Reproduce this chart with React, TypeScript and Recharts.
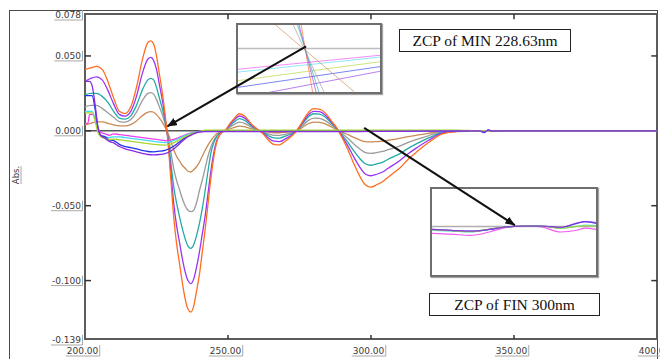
import React from 'react';
import { LineChart, Line, XAxis, YAxis, ReferenceLine } from 'recharts';

// ── Axes ───────────────────────────────────────────────────────────────────────

const X_TICKS = [200, 250, 300, 350, 400];
const Y_TICKS = [0.078, 0.05, 0, -0.05, -0.1, -0.139];
const X_DOMAIN: [number, number] = [200, 400];
const Y_DOMAIN: [number, number] = [-0.139, 0.078];
const RIGHT_TICKS = [0.05, -0.05, -0.1];
const TOP_TICKS = [250, 300, 350];

// ── MIN spectra (5 concentrations) ─────────────────────────────────────────────

const MIN_WL = [
  200, 202, 204, 206, 208, 210, 212, 214, 216, 218, 220, 222,
  223, 224, 225, 226, 227, 228, 229, 230, 231, 232, 233, 234, 235, 236, 237, 238, 239,
  240, 241, 242, 243, 244, 245, 246, 247, 248, 249, 250,
  252, 254, 256, 258, 260, 262, 264, 266, 268, 270, 272, 274, 276, 278, 280, 282, 284,
  286, 288, 290, 292, 294, 296, 298, 300, 302, 304, 306, 308, 310,
  313, 316, 320, 325, 330, 340, 400,
];

const MIN_ORANGE = [
  0.041, 0.042, 0.043, 0.041, 0.033, 0.022, 0.013, 0.0115, 0.016, 0.029, 0.047, 0.059,
  0.060, 0.058, 0.050, 0.038, 0.026, 0.011, -0.007, -0.032, -0.057, -0.075, -0.088, -0.101, -0.112, -0.119, -0.121, -0.117, -0.107,
  -0.096, -0.081, -0.066, -0.049, -0.032, -0.018, -0.008, -0.003, -0.0008, 0, 0.003,
  0.008, 0.0114, 0.0095, 0.005, 0.0015, -0.0015, -0.006, -0.009, -0.0094, -0.007, -0.004, 0, 0.006, 0.012, 0.0148, 0.0145, 0.012,
  0.007, 0.002, -0.005, -0.013, -0.022, -0.030, -0.036, -0.0376, -0.036, -0.034, -0.031, -0.028, -0.025,
  -0.019, -0.014, -0.008, -0.002, -0.0005, 0, 0,
];

const MIN_PURPLE = [
  0.033, 0.035, 0.036, 0.034, 0.027, 0.018, 0.011, 0.0098, 0.013, 0.023, 0.038, 0.048,
  0.049, 0.047, 0.041, 0.031, 0.021, 0.009, -0.006, -0.027, -0.048, -0.063, -0.074, -0.085, -0.094, -0.100, -0.102, -0.099, -0.091,
  -0.081, -0.069, -0.057, -0.042, -0.027, -0.015, -0.007, -0.003, -0.0008, 0, 0.0026,
  0.007, 0.0099, 0.0083, 0.0044, 0.0013, -0.0012, -0.0046, -0.0069, -0.0072, -0.0054, -0.0031, 0, 0.0053, 0.0106, 0.013, 0.0128, 0.0106,
  0.0062, 0.0018, -0.004, -0.0104, -0.0176, -0.024, -0.0288, -0.030, -0.029, -0.0275, -0.025, -0.0226, -0.020,
  -0.0153, -0.0113, -0.0065, -0.0016, -0.0004, 0, 0,
];

const MIN_TEAL = [
  0.024, 0.025, 0.025, 0.023, 0.019, 0.013, 0.0085, 0.0078, 0.010, 0.017, 0.027, 0.034,
  0.035, 0.034, 0.029, 0.022, 0.015, 0.0065, -0.0045, -0.021, -0.037, -0.048, -0.057, -0.065, -0.072, -0.077, -0.0785, -0.076, -0.070,
  -0.062, -0.052, -0.040, -0.027, -0.015, -0.008, -0.004, -0.0017, -0.0005, 0, 0.0021,
  0.0057, 0.0081, 0.0067, 0.0036, 0.0011, -0.0008, -0.0031, -0.0047, -0.0049, -0.0036, -0.0021, 0, 0.0046, 0.0092, 0.0114, 0.0112, 0.0092,
  0.0054, 0.0015, -0.003, -0.0079, -0.0134, -0.0183, -0.022, -0.023, -0.022, -0.021, -0.019, -0.0172, -0.0154,
  -0.0117, -0.0086, -0.0049, -0.0012, -0.0003, 0, 0,
];

const MIN_GRAY = [
  0.016, 0.017, 0.017, 0.015, 0.012, 0.009, 0.0062, 0.0058, 0.0075, 0.0125, 0.020, 0.025,
  0.0255, 0.0245, 0.021, 0.016, 0.011, 0.0047, -0.003, -0.014, -0.025, -0.033, -0.039, -0.045, -0.050, -0.053, -0.054, -0.053, -0.048,
  -0.040, -0.033, -0.025, -0.017, -0.011, -0.0065, -0.0035, -0.0015, -0.0004, 0, 0.0015,
  0.0041, 0.0058, 0.0048, 0.0026, 0.0008, -0.0005, -0.002, -0.003, -0.0031, -0.0023, -0.0013, 0, 0.0034, 0.0068, 0.0085, 0.0083, 0.0068,
  0.004, 0.0011, -0.002, -0.0052, -0.0088, -0.012, -0.0145, -0.015, -0.0145, -0.0138, -0.0126, -0.0114, -0.0102,
  -0.0077, -0.0057, -0.0033, -0.0008, -0.0002, 0, 0,
];

const MIN_TAN = [
  0.004, 0.005, 0.006, 0.006, 0.005, 0.004, 0.0033, 0.0033, 0.0042, 0.0066, 0.010, 0.0125,
  0.0128, 0.0124, 0.0108, 0.0085, 0.0058, 0.0024, -0.0015, -0.007, -0.0125, -0.017, -0.020, -0.023, -0.025, -0.027, -0.0275, -0.026, -0.024,
  -0.021, -0.017, -0.013, -0.0095, -0.0065, -0.004, -0.002, -0.001, -0.0003, 0, 0.0008,
  0.0022, 0.0032, 0.0027, 0.0014, 0.0004, -0.0002, -0.0008, -0.0013, -0.0013, -0.001, -0.0006, 0, 0.0023, 0.0047, 0.0058, 0.0057, 0.0047,
  0.0027, 0.0008, -0.001, -0.0026, -0.0044, -0.006, -0.0072, -0.0074, -0.0072, -0.0069, -0.0063, -0.0057, -0.0051,
  -0.0039, -0.0029, -0.0017, -0.0004, -0.0001, 0, 0,
];

// ── FIN spectra (5 concentrations) ─────────────────────────────────────────────

const FIN_WL = [
  200, 201, 201.6, 202.5, 203.5, 204.5, 205.5, 207, 208.5,
  210, 212, 214, 216, 218, 220, 222, 224, 226, 228, 230, 232, 234, 236, 238, 240, 242,
  250, 290, 300, 330, 338, 339.5, 341, 342.5, 345, 360, 400,
];

const FIN_MAGENTA = [
  0.005, 0.005, 0.011, 0.011, 0.009, 0.002, -0.001, -0.002, -0.003,
  -0.002, -0.0025, -0.003, -0.0035, -0.004, -0.0045, -0.005, -0.0055, -0.006, -0.0065, -0.0062, -0.005, -0.0035, -0.002, -0.001, -0.0003, 0,
  0, 0, 0, 0, 0, 0, 0, 0, 0, 0, 0,
];

const FIN_CYAN = [
  0.013, 0.013, 0.013, 0.013, 0.008, 0, -0.003, -0.004, -0.0045,
  -0.004, -0.004, -0.0045, -0.005, -0.0055, -0.006, -0.0065, -0.007, -0.0075, -0.0078, -0.0072, -0.0058, -0.004, -0.0024, -0.0012, -0.0004, 0,
  0, 0, 0, 0, 0, 0, 0, 0, 0, 0, 0,
];

const FIN_GREEN = [
  0.012, 0.012, 0.012, 0.012, 0.007, -0.001, -0.004, -0.005, -0.0058,
  -0.0055, -0.006, -0.0065, -0.007, -0.0075, -0.008, -0.0085, -0.009, -0.0094, -0.0095, -0.0088, -0.007, -0.005, -0.003, -0.0015, -0.0005, 0.0004,
  0.0004, 0.0004, 0.0004, 0.0004, 0, 0, 0, 0, 0, 0, 0,
];

const FIN_BLUE = [
  0.0235, 0.0235, 0.0235, 0.0235, 0.015, 0.002, -0.003, -0.004, -0.006,
  -0.0065, -0.009, -0.0105, -0.0112, -0.012, -0.013, -0.0138, -0.014, -0.0136, -0.013, -0.0115, -0.009, -0.006, -0.0035, -0.0017, -0.0006, 0,
  0, 0, 0, 0, 0, -0.0012, 0.0006, -0.0004, 0, 0, 0,
];

const FIN_VIOLET = [
  0.033, 0.033, 0.033, 0.030, 0.018, 0.003, -0.003, -0.005, -0.007,
  -0.008, -0.0105, -0.012, -0.013, -0.014, -0.015, -0.0158, -0.016, -0.0158, -0.0152, -0.0135, -0.0105, -0.007, -0.004, -0.002, -0.0008, -0.0006,
  -0.0006, -0.0006, -0.0004, 0, 0, -0.0009, 0.0004, 0, 0, 0, 0,
];

// ── Inset 1: zoom around MIN zero crossing (228.63 nm) ────────────────────────

const ZOOM_MIN_X: [number, number] = [227.67, 229.67];
const ZOOM_MIN_Y: [number, number] = [-0.00214, 0.00116];
// orange, purple, teal, gray, tan — wavelength where each leaves the top / bottom edge
const ZOOM_MIN_TOP = [228.56, 228.53, 228.51, 228.45, 228.2];
const ZOOM_MIN_BOTTOM = [228.72, 228.77, 228.81, 228.88, 229.31];
// magenta, cyan, green, blue, violet — value at left / right edge
const ZOOM_FIN_LEFT = [-0.00102, -0.00116, -0.00158, -0.00191, -0.00245];
const ZOOM_FIN_RIGHT = [-0.00033, -0.00042, -0.00065, -0.00089, -0.00112];

// ── Inset 2: zoom around FIN zero crossing (300 nm) ───────────────────────────

const ZOOM300_X: [number, number] = [297, 303];
const ZOOM300_Y: [number, number] = [-0.00113, 0.00087];
const ZOOM300_WL = [297, 297.7, 298.4, 299.1, 299.6, 300, 300.5, 301, 301.7, 302.3, 302.6, 303];
const Z300_MAGENTA = [-0.00016, -0.00018, -0.00021, -0.00013, -0.00004, 0, 0.00001, -0.00001, -0.00013, -0.00009, -0.00004, -0.00007];
const Z300_CYAN = [-0.00009, -0.00011, -0.00013, -0.00007, -0.00002, 0, 0.00001, 0.00001, -0.00004, 0, 0.00003, 0.00002];
const Z300_GREEN = [-0.00008, -0.0001, -0.00012, -0.00006, -0.00002, 0, 0.00001, 0.00001, -0.00004, 0, 0.00002, 0];
const Z300_BLUE = [-0.00007, -0.00009, -0.00011, -0.00007, -0.00002, 0, 0.00001, 0.00001, -0.00003, 0.00007, 0.00011, 0.00007];
const Z300_VIOLET = [-0.00007, -0.00009, -0.00011, -0.00007, -0.00002, 0, 0.00001, 0.00001, -0.00002, 0.00008, 0.00011, 0.00009];

// ── Arrows (data coords of main chart) ────────────────────────────────────────

const ARROW_MIN = [{ x: 277.3, y: 0.0564 }, { x: 228.8, y: 0.003 }];
const ARROW_FIN = [{ x: 297.6, y: 0.002 }, { x: 350.3, y: -0.063 }];

// ── Colours ────────────────────────────────────────────────────────────────────

const C = {
  orange: '#ff6d1f',
  purple: '#9a34f5',
  teal: '#22aaa4',
  gray: '#9b9b9b',
  tan: '#c98a55',
  magenta: '#ee3ef0',
  cyan: '#3fdcee',
  green: '#aad42c',
  blue: '#2233ee',
  violet: '#8a2be2',
};

const MIN_SERIES = [
  { key: 'tan', color: C.tan, values: MIN_TAN },
  { key: 'gray', color: C.gray, values: MIN_GRAY },
  { key: 'teal', color: C.teal, values: MIN_TEAL },
  { key: 'purple', color: C.purple, values: MIN_PURPLE },
  { key: 'orange', color: C.orange, values: MIN_ORANGE },
];

const FIN_SERIES = [
  { key: 'magenta', color: C.magenta, values: FIN_MAGENTA, z: Z300_MAGENTA },
  { key: 'cyan', color: C.cyan, values: FIN_CYAN, z: Z300_CYAN },
  { key: 'blue', color: C.blue, values: FIN_BLUE, z: Z300_BLUE },
  { key: 'green', color: C.green, values: FIN_GREEN, z: Z300_GREEN },
  { key: 'violet', color: C.violet, values: FIN_VIOLET, z: Z300_VIOLET },
];

const ZOOM_MIN_COLORS = [C.orange, C.purple, C.teal, C.gray, C.tan];
const ZOOM_FIN_COLORS = [C.magenta, C.cyan, C.green, C.blue, C.violet];

const minRows = MIN_WL.map((wl, i) => {
  const row: Record<string, number> = { wl };
  MIN_SERIES.forEach(s => { row[s.key] = s.values[i]; });
  return row;
});
const finRows = FIN_WL.map((wl, i) => {
  const row: Record<string, number> = { wl };
  FIN_SERIES.forEach(s => { row[s.key] = s.values[i]; });
  return row;
});
const zoom300Rows = ZOOM300_WL.map((wl, i) => {
  const row: Record<string, number> = { wl };
  FIN_SERIES.forEach(s => { row[s.key] = s.z[i]; });
  return row;
});

// ── Tick labels (boxed, instrument-software look) ─────────────────────────────

const SANS = 'DejaVu Sans, Verdana, sans-serif';
const SERIF = '"Liberation Serif", "Times New Roman", serif';
const INK = '#3a3a3a';
const SHADOW = '#a9a9a9';

const CH_W: Record<string, number> = { '.': 2.86, '-': 3.25 };
const textWidth = (s: string) => [...s].reduce((w, c) => w + (CH_W[c] ?? 5.73), 0);

function YTick({ x, y, payload }: any) {
  const v = payload.value as number;
  const label = v.toFixed(3);
  const edge = v === Y_TICKS[0] || v === Y_TICKS[Y_TICKS.length - 1];
  const right = x - 4;
  const w = textWidth(label);
  const base = y + (edge ? 4 : 3);
  return (
    <g>
      {!edge && <line x1={x} x2={x + 6} y1={y} y2={y} stroke="#333" strokeWidth={1.5} />}
      <polyline
        points={`${right - w - 1},${base + 2} ${right + 1.5},${base + 2} ${right + 1.5},${base - 8}`}
        fill="none" stroke={SHADOW} strokeWidth={1}
      />
      <text x={right} y={base} textAnchor="end" fontSize={9} fontFamily={SANS} fill={INK}>{label}</text>
    </g>
  );
}

function XTick({ x, y, payload }: any) {
  const v = payload.value as number;
  const label = v.toFixed(2);
  const edge = v === X_TICKS[0] || v === X_TICKS[X_TICKS.length - 1];
  const cx = x - 2.5;
  const w = textWidth(label);
  return (
    <g>
      {!edge && <line x1={x} x2={x} y1={y} y2={y - 4} stroke="#333" strokeWidth={1.5} />}
      <polyline
        points={`${cx - w / 2 - 1},${y + 17} ${cx + w / 2 + 1.5},${y + 17} ${cx + w / 2 + 1.5},${y + 6}`}
        fill="none" stroke={SHADOW} strokeWidth={1}
      />
      <text x={cx} y={y + 15} textAnchor="middle" fontSize={9} fontFamily={SANS} fill={INK}>{label}</text>
    </g>
  );
}

// ── Insets ─────────────────────────────────────────────────────────────────────

const insetBox = (left: number, top: number, width: number, height: number): React.CSSProperties => ({
  position: 'absolute', left, top, width, height, boxSizing: 'border-box',
  border: '2px solid #6e6e6e', background: '#fff', boxShadow: '1px 1px 1px rgba(0,0,0,0.35)',
});

function ZoomMin() {
  const minLines = ZOOM_MIN_TOP.map((t, i) => [
    { wl: t, v: ZOOM_MIN_Y[1] }, { wl: ZOOM_MIN_BOTTOM[i], v: ZOOM_MIN_Y[0] },
  ]);
  const finLines = ZOOM_FIN_LEFT.map((l, i) => [
    { wl: ZOOM_MIN_X[0], v: l }, { wl: ZOOM_MIN_X[1], v: ZOOM_FIN_RIGHT[i] },
  ]);
  return (
    <div style={insetBox(236, 23, 146, 71)}>
      <LineChart width={142} height={67} margin={{ top: 0, right: 0, bottom: 0, left: 0 }}>
        <XAxis dataKey="wl" type="number" domain={ZOOM_MIN_X} allowDataOverflow hide />
        <YAxis type="number" domain={ZOOM_MIN_Y} allowDataOverflow hide />
        <ReferenceLine y={0} stroke="#bdbdbd" strokeWidth={1.5} />
        {finLines.map((d, i) => (
          <Line key={`f${i}`} data={d} dataKey="v" type="linear" stroke={ZOOM_FIN_COLORS[i]}
            strokeWidth={1} strokeOpacity={0.6} dot={false} activeDot={false} isAnimationActive={false} />
        ))}
        {minLines.map((d, i) => (
          <Line key={`m${i}`} data={d} dataKey="v" type="linear" stroke={ZOOM_MIN_COLORS[i]}
            strokeWidth={1} strokeOpacity={0.65} dot={false} activeDot={false} isAnimationActive={false} />
        ))}
      </LineChart>
    </div>
  );
}

function Zoom300() {
  return (
    <div style={insetBox(430, 187, 168, 90)}>
      <LineChart width={164} height={86} data={zoom300Rows} margin={{ top: 0, right: 0, bottom: 0, left: 0 }}>
        <XAxis dataKey="wl" type="number" domain={ZOOM300_X} allowDataOverflow hide />
        <YAxis type="number" domain={ZOOM300_Y} allowDataOverflow hide />
        <ReferenceLine y={0} stroke="#b0b0b0" strokeWidth={1.5} />
        {FIN_SERIES.map(s => (
          <Line key={s.key} dataKey={s.key} type="monotone" stroke={s.color}
            strokeWidth={1.2} strokeOpacity={0.85} dot={false} activeDot={false} isAnimationActive={false} />
        ))}
      </LineChart>
    </div>
  );
}

// ── Main component ─────────────────────────────────────────────────────────────

const PLOT_MARGIN = { top: 14, right: 3, bottom: 0, left: 0 };

export default function App() {
  return (
    <div style={{ position: 'absolute', left: 0, top: 0, width: 660, height: 359, overflow: 'hidden', background: '#fff' }}>
      <svg width={0} height={0} style={{ position: 'absolute' }}>
        <defs>
          <marker id="zcp-arrow" viewBox="0 0 10 8" refX="9.5" refY="4" markerWidth="10" markerHeight="8"
            markerUnits="userSpaceOnUse" orient="auto">
            <path d="M0,0 L10,4 L0,8 z" fill="#111" />
          </marker>
        </defs>
      </svg>

      {/* outer frame + plot frame */}
      <div style={{ position: 'absolute', left: 9, top: 10, width: 649, height: 400, boxSizing: 'border-box', border: '1.5px solid #4a4a4a' }} />
      <div style={{ position: 'absolute', left: 84, top: 13, width: 574, height: 327, boxSizing: 'border-box', border: '2px solid #5c5c5c' }} />

      {/* insets sit under the (transparent) main chart so the arrows cross them */}
      <ZoomMin />
      <Zoom300 />

      <div style={{ position: 'absolute', left: 0, top: 0 }}>
        <LineChart width={660} height={359} margin={PLOT_MARGIN}>
          <XAxis dataKey="wl" type="number" domain={X_DOMAIN} ticks={X_TICKS} interval={0} height={20}
            tickSize={0} tickMargin={0} axisLine={false} tickLine={false} tick={(p: any) => <XTick {...p} />} />
          <YAxis type="number" domain={Y_DOMAIN} ticks={Y_TICKS} interval={0} width={85}
            tickSize={0} tickMargin={0} axisLine={false} tickLine={false} tick={(p: any) => <YTick {...p} />} />

          <ReferenceLine segment={[{ x: 200, y: 0 }, { x: 245, y: 0 }]} stroke="#555" strokeWidth={1.5} />
          {RIGHT_TICKS.map(v => (
            <ReferenceLine key={`r${v}`} segment={[{ x: 398, y: v }, { x: 400, y: v }]} stroke="#333" strokeWidth={1.5} />
          ))}
          {TOP_TICKS.map(v => (
            <ReferenceLine key={`t${v}`} segment={[{ x: v, y: 0.078 }, { x: v, y: 0.0745 }]} stroke="#333" strokeWidth={1.5} />
          ))}

          {MIN_SERIES.map(s => (
            <Line key={s.key} data={minRows} dataKey={s.key} type="monotone" stroke={s.color}
              strokeWidth={1.3} dot={false} activeDot={false} isAnimationActive={false} />
          ))}
          {FIN_SERIES.map(s => (
            <Line key={s.key} data={finRows} dataKey={s.key} type="monotone" stroke={s.color}
              strokeWidth={1.3} dot={false} activeDot={false} isAnimationActive={false} />
          ))}

          <ReferenceLine segment={ARROW_MIN} stroke="#111" strokeWidth={2} markerEnd="url(#zcp-arrow)" />
          <ReferenceLine segment={ARROW_FIN} stroke="#111" strokeWidth={2} markerEnd="url(#zcp-arrow)" />
        </LineChart>
      </div>

      {/* annotation boxes */}
      <div style={{
        position: 'absolute', left: 399, top: 29, width: 172, height: 23, boxSizing: 'border-box',
        border: '1px solid #222', background: '#fff', fontFamily: SERIF, fontSize: 15.5, color: '#111',
        display: 'flex', alignItems: 'center', justifyContent: 'center', whiteSpace: 'nowrap',
      }}>ZCP of MIN 228.63nm</div>
      <div style={{
        position: 'absolute', left: 429, top: 293, width: 171, height: 23, boxSizing: 'border-box',
        border: '1px solid #222', background: '#fff', fontFamily: SERIF, fontSize: 15.5, color: '#111',
        display: 'flex', alignItems: 'center', justifyContent: 'center', whiteSpace: 'nowrap',
      }}>ZCP of FIN 300nm</div>

      {/* axis titles */}
      <svg width={660} height={359} style={{ position: 'absolute', left: 0, top: 0, pointerEvents: 'none' }}>
        <g transform="translate(18.5,175) rotate(-90)">
          <polyline points="-9,2.5 9,2.5" fill="none" stroke={SHADOW} strokeWidth={1} />
          <text x={0} y={0} textAnchor="middle" fontSize={8.5} fontFamily={SANS} fill={INK}>Abs.</text>
        </g>
        <text x={370} y={364} textAnchor="middle" fontSize={9} fontFamily={SANS} fill={INK}>nm</text>
      </svg>
    </div>
  );
}
